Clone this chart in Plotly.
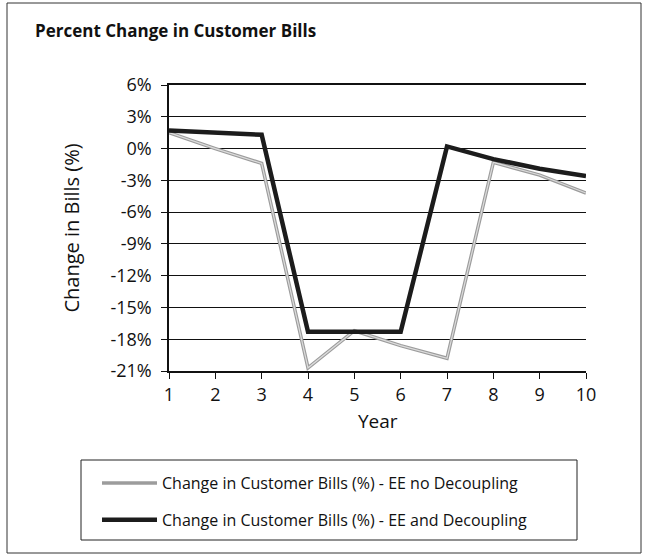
import plotly.graph_objects as go

years = [1, 2, 3, 4, 5, 6, 7, 8, 9, 10]
no_decoupling = [1.5, 0.0, -1.4, -20.7, -17.2, -18.6, -19.8, -1.3, -2.5, -4.2]
with_decoupling = [1.7, 1.5, 1.3, -17.3, -17.3, -17.3, 0.2, -1.0, -1.9, -2.6]
y_ticks = [6, 3, 0, -3, -6, -9, -12, -15, -18, -21]

W, H = 647, 556
L, R, T, B = 169, 61, 85, 185
pw, ph = W - L - R, H - T - B


def px_x(px):
    return (px - L) / pw


def px_y(py):
    return (H - B - py) / ph


FONT = "Open Sans"
TICK_FONT = "Liberation Sans Narrow, Open Sans"

fig = go.Figure()
fig.add_trace(go.Scatter(
    x=years, y=no_decoupling, mode="lines", legendgroup="a",
    name="Change in Customer Bills (%) - EE no Decoupling",
    line=dict(color="#9c9c9c", width=3.5),
))
fig.add_trace(go.Scatter(
    x=years, y=no_decoupling, mode="lines", showlegend=False, hoverinfo="skip",
    legendgroup="a",
    line=dict(color="#dcdcdc", width=1.2),
))
fig.add_trace(go.Scatter(
    x=years, y=with_decoupling, mode="lines", legendgroup="b",
    name="Change in Customer Bills (%) - EE and Decoupling",
    line=dict(color="#1c1c1c", width=4.5),
))

shapes = [
    # outer frame
    dict(type="rect", xref="paper", yref="paper",
         x0=px_x(7), x1=px_x(641), y0=px_y(553), y1=px_y(3),
         line=dict(color="#333", width=1), layer="below"),
    # legend box
    dict(type="rect", xref="paper", yref="paper",
         x0=px_x(81), x1=px_x(577), y0=px_y(540), y1=px_y(460),
         line=dict(color="#222", width=1)),
]

fig.update_layout(
    width=W, height=H,
    margin=dict(l=L, r=R, t=T, b=B),
    paper_bgcolor="white", plot_bgcolor="white",
    font=dict(family=FONT, color="#111"),
    title=dict(text="<b>Percent Change in Customer Bills</b>",
               x=35 / W, xanchor="left", y=1 - 31 / H, yanchor="middle",
               font=dict(size=17, family=FONT, color="#111")),
    showlegend=True,
    legend=dict(x=px_x(97), xanchor="left", y=px_y(466), yanchor="top",
                bgcolor="rgba(0,0,0,0)", borderwidth=0,
                font=dict(size=16, family=FONT, color="#111"),
                tracegroupgap=13, itemwidth=55),
    shapes=shapes,
    annotations=[dict(text="Year", xref="paper", yref="paper",
                      x=0.5, y=px_y(421), xanchor="center", yanchor="middle",
                      showarrow=False, font=dict(size=19, family=FONT, color="#111"))],
)

fig.update_xaxes(
    range=[1, 10], tickvals=years, ticktext=[str(v) for v in years],
    showgrid=False, zeroline=False,
    showline=True, linecolor="#111", linewidth=1.5, mirror=True,
    ticks="outside", ticklen=6, tickcolor="#111",
    tickfont=dict(size=18, family=TICK_FONT), ticklabelstandoff=1,
)
fig.update_yaxes(
    range=[-21, 6], tickvals=y_ticks, ticktext=[f"{v}%" for v in y_ticks],
    showgrid=True, gridcolor="#111", gridwidth=1, zeroline=False,
    showline=True, linecolor="#111", linewidth=1.5,
    ticks="outside", ticklen=6, tickcolor="#111",
    tickfont=dict(size=18, family=TICK_FONT), ticklabelstandoff=6,
    title=dict(text="Change in Bills (%)", font=dict(size=20, family=FONT), standoff=25),
)

fig.write_html("out.html")
